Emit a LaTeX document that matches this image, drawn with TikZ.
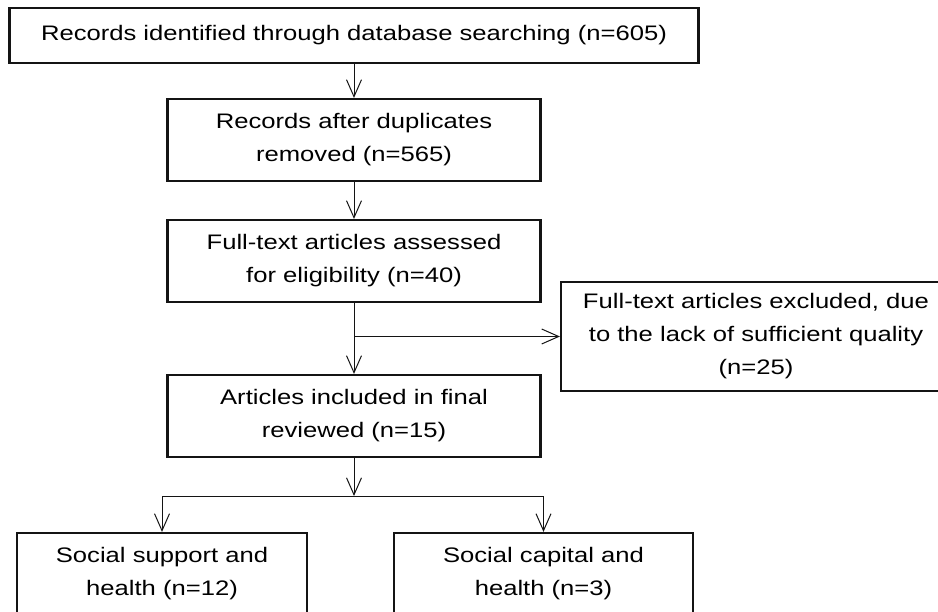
\documentclass[tikz,border=0pt]{standalone}
\usepackage{fontspec}
\setmainfont{Liberation Sans}[FakeStretch=1.22]
\usepackage{tikz}
\usetikzlibrary{arrows.meta,positioning}
\usepackage{xcolor}
\definecolor{prline}{RGB}{20,20,20}
\tikzstyle{arrow} = [line width=1pt,-{Straight Barb[length=17pt,width=15pt]},color=prline]
\tikzstyle{link} = [line width=1pt,color=prline]
\tikzstyle{stage} = [rectangle, draw=prline, line width=2.2pt, minimum width=373pt, minimum height=82pt, text centered, align=center, font=\fontsize{21pt}{33pt}\selectfont]

\begin{document}
\begin{tikzpicture}[node distance=100pt]
\useasboundingbox (0,0) rectangle (938pt,-612pt);
% Identification
\node (rec) [stage, minimum width=689pt, minimum height=55pt] at (354pt,-35.5pt) {Records identified through database searching (n=605)};

% Screening
\node (dup) [stage, below of=rec, node distance=104.5pt] {Records after duplicates\\removed (n=565)};
\node (elig) [stage, below of=dup, node distance=121pt] {Full-text articles assessed\\for eligibility (n=40)};

% Excluded
\node (excl) [stage, right of=elig, node distance=402pt, yshift=-75.5pt, minimum width=390pt, minimum height=109pt] {Full-text articles excluded, due\\to the lack of sufficient quality\\(n=25)};

% Included
\node (incl) [stage, below of=elig, node distance=155pt] {Articles included in final\\reviewed (n=15)};
\coordinate [below of=incl, node distance=80pt] (split);

% Themes
\node (sup) [stage, below of=incl, node distance=158pt, xshift=-192pt, minimum width=290pt] {Social support and\\health (n=12)};
\node (cap) [stage, below of=incl, node distance=158pt, xshift=189.5pt, minimum width=299pt] {Social capital and\\health (n=3)};

% Steps
\draw[arrow] (rec) -- (dup);
\draw[arrow] (dup) -- (elig);
\draw[arrow] (elig) -- (incl);
\draw[arrow] (elig.south |- excl.west) -- (excl.west);
\draw[arrow] (incl) -- (split);
\draw[link] (split -| sup.north) -- (split -| cap.north);
\draw[arrow] (split -| sup.north) -- (sup);
\draw[arrow] (split -| cap.north) -- (cap);

\end{tikzpicture}
\end{document}
